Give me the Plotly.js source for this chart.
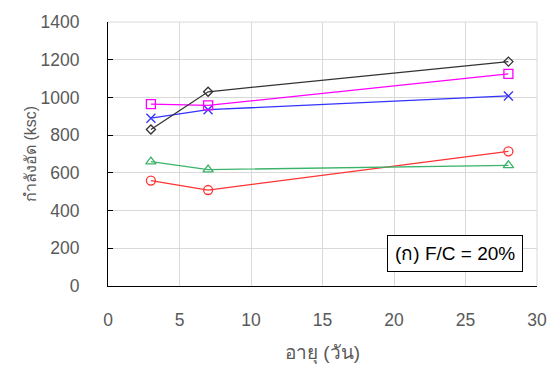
<!DOCTYPE html>
<html><head><meta charset="utf-8">
<script src="https://cdn.plot.ly/plotly-3.0.1.min.js"></script>
<style>body{margin:0;background:#fff}#c{width:551px;height:371px}</style>
</head><body><div id="c"></div>
<script>
const ages = [3, 7, 28];
const sBlack = [830, 1030, 1190];
const sMagenta = [965, 958, 1125];
const sBlue = [890, 935, 1008];
const sGreen = [660, 617, 640];
const sRed = [559, 509, 714];
const xTicks = [0, 5, 10, 15, 20, 25, 30];
const yTicks = [0, 200, 400, 600, 800, 1000, 1200, 1400];

function tr(y, color, sym, size, yax) {
  return {x: ages, y: y, type: 'scatter', mode: 'lines+markers', yaxis: yax,
    line: {color: color, width: 1.3},
    marker: {symbol: sym, size: size, color: color, line: {color: color, width: 1.3}},
    showlegend: false};
}
const font = 'Liberation Sans, Arial, Noto Sans, DejaVu Sans, sans-serif';
const data = [
  tr(sRed, '#ff3333', 'circle-open', 9, 'y'),
  tr(sGreen, '#3cb36a', 'triangle-up-open', 9, 'y2'),
  tr(sBlue, '#3333ff', 'x-thin-open', 9, 'y2'),
  tr(sMagenta, '#ff00ff', 'square-open', 9, 'y2'),
  tr(sBlack, '#333333', 'diamond-open', 7, 'y2')
];
const layout = {
  width: 551, height: 371,
  margin: {l: 108, r: 14, t: 22, b: 85},
  paper_bgcolor: '#fff', plot_bgcolor: '#fff',
  font: {family: font, color: '#595959', size: 17.5},
  xaxis: {range: [0, 30], tickvals: xTicks, ticktext: xTicks.map(String),
    showgrid: true, gridcolor: '#d9d9d9', gridwidth: 1, zeroline: false,
    showline: true, linecolor: '#000', linewidth: 1, mirror: false,
    ticks: '', ticklabelstandoff: 18,
    title: {text: 'อายุ (วัน)', font: {size: 19, color: '#595959'}, standoff: 16}},
  yaxis: {range: [0, 1400], tickvals: yTicks, ticktext: yTicks.map(String),
    showgrid: true, gridcolor: '#d9d9d9', gridwidth: 1, zeroline: false,
    showline: true, linecolor: '#000', linewidth: 1,
    ticks: 'outside', ticklen: 24, tickcolor: 'rgba(0,0,0,0)'},
  yaxis2: {overlaying: 'y', side: 'left', range: [0, 1400], tickvals: yTicks,
    showgrid: false, zeroline: false, showline: false, showticklabels: false,
    ticks: 'inside', ticklen: 5, tickcolor: '#000',
    title: {text: 'กำลังอัด (ksc)', font: {size: 16, color: '#595959'}, standoff: 66}},
  shapes: [
    {type: 'line', xref: 'paper', yref: 'paper', x0: 0, x1: 1, y0: 1, y1: 1, line: {color: '#d9d9d9', width: 1}},
    {type: 'line', xref: 'paper', yref: 'paper', x0: 1, x1: 1, y0: 0, y1: 1, line: {color: '#d9d9d9', width: 1}}
  ],
  annotations: [{
    xref: 'paper', yref: 'paper', x: 0.967, y: 0.053, xanchor: 'right', yanchor: 'bottom',
    text: '(ก) F/C = 20%', showarrow: false,
    font: {size: 19, color: '#000'}, bgcolor: '#fff', bordercolor: '#000', borderwidth: 1, borderpad: 7
  }]
};
Plotly.newPlot('c', data, layout, {displayModeBar: false});
</script></body></html>
